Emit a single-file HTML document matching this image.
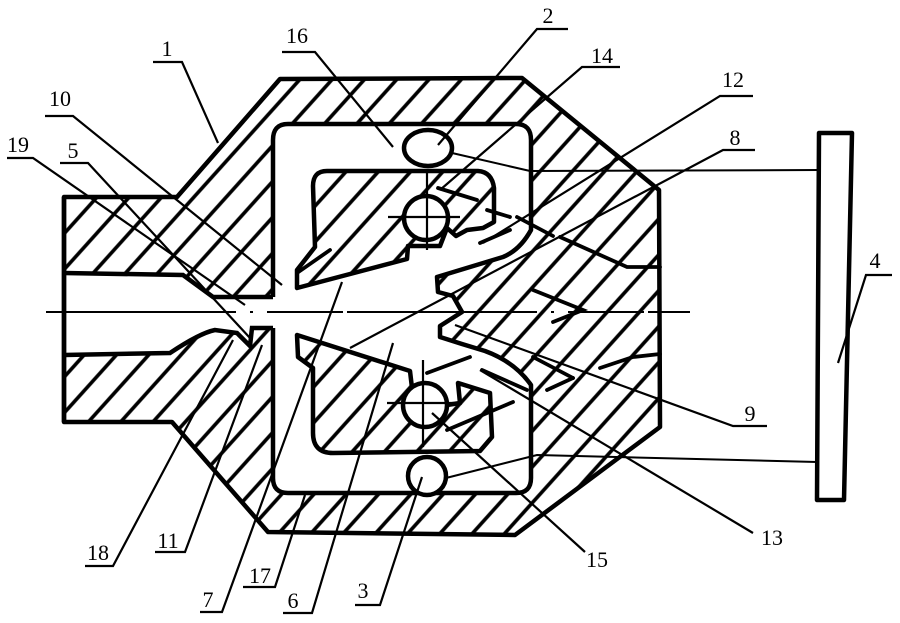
<!DOCTYPE html>
<html>
<head>
<meta charset="utf-8">
<style>
html,body{margin:0;padding:0;background:#fff;}
svg{display:block;}
text{font-family:"Liberation Serif",serif;font-size:22px;fill:#000;}
</style>
</head>
<body>
<svg width="900" height="623" viewBox="0 0 900 623" xmlns="http://www.w3.org/2000/svg">
<defs>
<pattern id="h" patternUnits="userSpaceOnUse" width="24" height="24" patternTransform="rotate(42)">
<rect width="24" height="24" fill="#fff"/>
<line x1="12" y1="-2" x2="12" y2="26" stroke="#000" stroke-width="3.6"/>
</pattern>
</defs>
<rect width="900" height="623" fill="#fff"/>

<!-- outer body hatched -->
<polygon points="64,197 177,197 280,79 522,78 659,190 660,427 515,535 268,532 172,422 64,422" fill="url(#h)"/>

<!-- bore (white) -->
<polygon points="64,273 183,275 213,297 280,297 280,328 252,328 250,346 237,333 215,330 200,336 170,353 64,355" fill="#fff"/>

<!-- cavity (white) -->
<path d="M288,124 H516 Q531,124 531,140 V478 Q531,493 516,493 H288 Q273,493 273,478 V140 Q273,124 288,124 Z" fill="#fff"/>

<!-- central right piece hatched -->
<polygon points="531,230 503,257 470,267 437,277 438,292 453,296 462,312 440,326 440,337 462,344 485,351 510,364 531,385 560,385 560,230" fill="url(#h)"/>

<!-- upper inner block -->
<path d="M313,186 Q313,171 327,171 H478 Q492,172 494,188 V222 L483,228 L467,230 L456,236 L447,228 L440,246 L408,246 L407,259 L297,288 L297,270 L315,247 Z" fill="url(#h)" stroke="#000" stroke-width="4.5" stroke-linejoin="round"/>
<!-- lower inner block -->
<path d="M297,335 L410,371 L412,388 L447,405 L460,403 L458,383 L490,393 L492,437 L480,451 L333,453 Q313,453 313,433 V368 L298,357 Z" fill="url(#h)" stroke="#000" stroke-width="4.5" stroke-linejoin="round"/>

<!-- outer outline -->
<polygon points="64,197 177,197 280,79 522,78 659,190 660,427 515,535 268,532 172,422 64,422" fill="none" stroke="#000" stroke-width="4.5" stroke-linejoin="round"/>
<line x1="64" y1="197" x2="64" y2="422" stroke="#000" stroke-width="4.5"/>

<!-- bore outlines -->
<polyline points="64,273 183,275 213,297 273,297" fill="none" stroke="#000" stroke-width="4.5"/>
<path d="M64,355 L170,353 Q200,333 215,330 L237,333 L250,346 L252,328 L273,328" fill="none" stroke="#000" stroke-width="4.5"/>

<!-- cavity outline -->
<path d="M273,297 V140 Q273,124 288,124 H516 Q531,124 531,140 V230 Q520,250 503,257 L470,267 L437,277 L438,292 L453,296 L462,312 L440,326 L440,337 L462,344 L485,351 Q515,362 531,385 V478 Q531,493 516,493 H288 Q273,493 273,478 V328" fill="none" stroke="#000" stroke-width="4.5" stroke-linejoin="round"/>

<!-- circles with crosshairs -->
<circle cx="426" cy="218" r="22" fill="#fff" stroke="#000" stroke-width="4.5"/>
<line x1="388" y1="217" x2="460" y2="217" stroke="#000" stroke-width="2.2"/>
<line x1="427" y1="171" x2="427" y2="250" stroke="#000" stroke-width="2.2"/>
<circle cx="425" cy="405" r="22" fill="#fff" stroke="#000" stroke-width="4.5"/>
<line x1="387" y1="403" x2="462" y2="403" stroke="#000" stroke-width="2.2"/>
<line x1="423" y1="360" x2="423" y2="447" stroke="#000" stroke-width="2.2"/>

<!-- balls -->
<ellipse cx="428" cy="148" rx="24" ry="18" fill="#fff" stroke="#000" stroke-width="4.5"/>
<circle cx="427" cy="476" r="19" fill="#fff" stroke="#000" stroke-width="4.5"/>

<!-- flow arrows / internal lines -->
<g stroke="#000" stroke-width="3.8" fill="none" stroke-linecap="round">
<polyline points="560,237 627,267 660,267"/>
<polyline points="600,368 633,357 660,354"/>
<polyline points="533,290 583,310 553,322"/>
<line x1="517" y1="217" x2="553" y2="236"/>
<line x1="480" y1="243" x2="510" y2="230"/>
<line x1="438" y1="188" x2="477" y2="200"/>
<line x1="487" y1="210" x2="510" y2="217"/>
<line x1="470" y1="357" x2="427" y2="373"/>
<line x1="482" y1="370" x2="527" y2="390"/>
<line x1="533" y1="357" x2="573" y2="378"/>
<line x1="547" y1="390" x2="573" y2="378"/>
<line x1="447" y1="430" x2="513" y2="402"/>
<line x1="297" y1="273" x2="330" y2="250"/>
</g>

<!-- centerline -->
<line x1="46" y1="312" x2="690" y2="312" stroke="#000" stroke-width="2" stroke-dasharray="190 14 3 14 76 4"/>

<!-- box 4 -->
<polygon points="819,133 852,133 844,500 817,500" fill="#fff" stroke="#000" stroke-width="4.5" stroke-linejoin="round"/>
<polyline points="452,153 530,171 819,170" fill="none" stroke="#000" stroke-width="2"/>
<polyline points="446,478 537,455 817,462" fill="none" stroke="#000" stroke-width="2"/>

<!-- leaders -->
<g stroke="#000" stroke-width="2.2" fill="none">
<polyline points="7,158 33,158 245,305"/>
<polyline points="60,163 88,163 250,338"/>
<polyline points="45,116 73,116 282,285"/>
<polyline points="153,62 182,62 218,143"/>
<polyline points="282,52 315,52 393,147"/>
<polyline points="568,29 537,29 438,145"/>
<polyline points="620,67 582,67 440,190"/>
<polyline points="753,96 720,96 483,243"/>
<polyline points="755,150 723,150 350,348"/>
<polyline points="892,275 866,275 838,363"/>
<polyline points="767,426 733,426 455,325"/>
<line x1="753" y1="533" x2="480" y2="370"/>
<line x1="585" y1="552" x2="432" y2="413"/>
<polyline points="85,566 113,566 233,340"/>
<polyline points="155,552 185,552 262,345"/>
<polyline points="200,612 222,612 342,282"/>
<polyline points="243,587 275,587 305,495"/>
<polyline points="283,613 312,613 393,343"/>
<polyline points="355,605 380,605 422,477"/>
</g>

<!-- labels -->
<text x="18" y="152" text-anchor="middle">19</text>
<text x="73" y="158" text-anchor="middle">5</text>
<text x="60" y="106" text-anchor="middle">10</text>
<text x="167" y="56" text-anchor="middle">1</text>
<text x="297" y="43" text-anchor="middle">16</text>
<text x="548" y="23" text-anchor="middle">2</text>
<text x="602" y="63" text-anchor="middle">14</text>
<text x="733" y="87" text-anchor="middle">12</text>
<text x="735" y="145" text-anchor="middle">8</text>
<text x="875" y="268" text-anchor="middle">4</text>
<text x="750" y="421" text-anchor="middle">9</text>
<text x="772" y="545" text-anchor="middle">13</text>
<text x="597" y="567" text-anchor="middle">15</text>
<text x="98" y="560" text-anchor="middle">18</text>
<text x="168" y="548" text-anchor="middle">11</text>
<text x="208" y="607" text-anchor="middle">7</text>
<text x="260" y="583" text-anchor="middle">17</text>
<text x="293" y="608" text-anchor="middle">6</text>
<text x="363" y="598" text-anchor="middle">3</text>
</svg>
</body>
</html>
